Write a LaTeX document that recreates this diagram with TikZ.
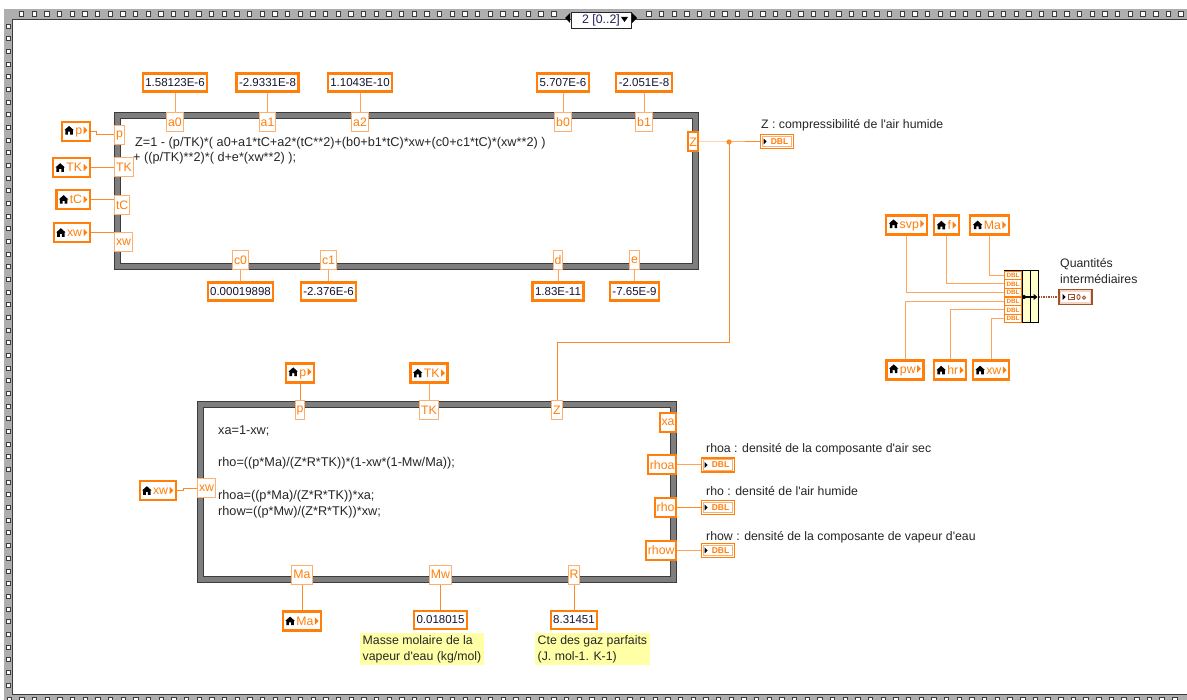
\documentclass[tikz,border=0pt]{standalone}
\usepackage{fontspec}
\newfontfamily\lvf{Liberation Sans}
\usetikzlibrary{arrows.meta}
\definecolor{lor}{HTML}{FF7F0A}
\definecolor{lorl}{HTML}{FFB070}
\definecolor{wor}{HTML}{FF8A24}
\definecolor{worl}{HTML}{FFA45A}
\definecolor{kblue}{HTML}{141434}
\definecolor{fdark}{HTML}{3C3C3C}
\definecolor{fgray}{HTML}{7E7E7E}
\definecolor{bandgray}{HTML}{AEAEAE}
\definecolor{txtc}{HTML}{262626}
\definecolor{cmtyl}{HTML}{FFFFA6}
\definecolor{bylw}{HTML}{FFFFCC}
\definecolor{cbrown}{HTML}{A0522D}
\definecolor{cpink}{HTML}{F3D6C8}
\definecolor{selblue}{HTML}{20205A}
\newcommand{\dfont}{\lvf\fontsize{12.3}{14}\selectfont}
\newcommand{\ffont}{\lvf\fontsize{12.7}{14}\selectfont}
\newcommand{\kfont}{\lvf\fontsize{11.5}{13}\selectfont}
\newcommand{\lvhouse}{\tikz[x=1pt,y=1pt,baseline=0pt]\fill[black] (0,0) -- (0,4.4) -- (-1,4.4) -- (3.7,8.6) -- (8.4,4.4) -- (7.4,4.4) -- (7.4,0) -- (4.8,0) -- (4.8,2.8) -- (2.6,2.8) -- (2.6,0) -- cycle;}
\newcommand{\lvtri}{\tikz[x=1pt,y=1pt,baseline=0pt]\fill[lor] (0,0.5) -- (0,8) -- (3.8,4.25) -- cycle;}
\newcommand{\lvname}[1]{\lvhouse\hspace{1.5pt}#1\hspace{1.5pt}\lvtri}
\begin{document}
\begin{tikzpicture}[x=1pt,y=-1pt,
  iterm/.style={draw=lorl, line width=1, fill=white, text=lor, font=\dfont, inner xsep=1.5pt, inner ysep=0pt, minimum height=19},
  oterm/.style={iterm, draw=lor, line width=2},
  kst/.style={draw=lor, line width=2.2, fill=white, text=kblue, font=\kfont, inner xsep=2.5pt, inner ysep=0pt, minimum height=18},
  lvar/.style={draw=lor, line width=2.2, fill=white, text=lor, font=\dfont, inner xsep=2.5pt, inner ysep=0pt, minimum height=19},
  wire/.style={draw=wor, line width=1},
  lwire/.style={draw=worl, line width=1},
  cwire/.style={draw=cbrown, line width=2.6, dash pattern=on 1.4pt off 1pt},
  fnode/.style={draw=fdark, double=fgray, double distance=5, line width=1, fill=white, inner sep=0},
  ftext/.style={font=\ffont, text=txtc, inner sep=0, anchor=base west},
  lbl/.style={font=\dfont, text=txtc, inner sep=0, anchor=base west},
  cmt/.style={fill=cmtyl, font=\lvf\fontsize{12.3}{16}\selectfont, text=txtc, align=left, inner xsep=2.5pt, inner ysep=2pt, anchor=north west},
  dbl/.style={draw=lor, line width=1.6, fill=white, minimum width=33, minimum height=14, inner sep=0,
    text=lor, font=\lvf\fontsize{8.5}{8.5}\selectfont\bfseries,
    path picture={
      \draw[lorl, line width=0.9] ([shift={(1.6pt,-1.6pt)}]path picture bounding box.north west) rectangle ([shift={(-1.6pt,1.6pt)}]path picture bounding box.south east);
      \fill[black] ([shift={(3pt,3pt)}]path picture bounding box.west) -- ([shift={(3pt,-3pt)}]path picture bounding box.west) -- ([shift={(6pt,0pt)}]path picture bounding box.west) -- cycle;}},
  clind/.style={draw=cbrown, line width=1.6, fill=cpink, minimum width=33, minimum height=15, inner sep=0,
    path picture={
      \fill[white] ([shift={(2.2pt,-2.2pt)}]path picture bounding box.north west) rectangle ([shift={(-2.2pt,2.2pt)}]path picture bounding box.south east);
      \fill[black] ([shift={(3.5pt,3pt)}]path picture bounding box.west) -- ([shift={(3.5pt,-3pt)}]path picture bounding box.west) -- ([shift={(6.5pt,0pt)}]path picture bounding box.west) -- cycle;
      \draw[cbrown, line width=0.8] ([shift={(9pt,2.5pt)}]path picture bounding box.west) rectangle ([shift={(15pt,-2.5pt)}]path picture bounding box.west);
      \draw[cbrown, line width=0.8] ([shift={(12pt,0pt)}]path picture bounding box.west) -- ([shift={(15pt,0pt)}]path picture bounding box.west);
      \draw[cbrown, line width=0.9] ([shift={(19.5pt,0pt)}]path picture bounding box.west) ellipse (1.6pt and 2.4pt);
      \draw[cbrown, line width=0.9] ([shift={(25pt,-0.6pt)}]path picture bounding box.west) circle (1.7pt);}},
  bcell/.style={draw=lor, line width=0.8, fill=white, text=lor, font=\lvf\fontsize{6.3}{6.3}\selectfont\bfseries, minimum width=17, minimum height=8.2, inner sep=0}
]
\useasboundingbox (0,0) rectangle (1187,700);
\fill[white] (0,0) rectangle (1187,700);
% ---------- sequence frame ----------
\fill[bandgray] (5,9) rectangle (1187,19);
\draw[fdark, line width=1.5] (12,19.5) -- (1187,19.5);
\foreach \x in {9,21.67,...,556} \filldraw[fill=white, draw=fdark, line width=1] (\x-2.2,12) rectangle (\x+2.2,17);
\foreach \x in {649,661.67,...,1187} \filldraw[fill=white, draw=fdark, line width=1] (\x-2.2,12) rectangle (\x+2.2,17);
\fill[bandgray] (4,9) rectangle (12,700);
\draw[fdark, line width=1.2] (12.5,19) -- (12.5,694);
\foreach \y in {26,38.67,...,690} \filldraw[fill=white, draw=fdark, line width=0.6] (6,\y-2) rectangle (10,\y+2);
\fill[bandgray] (4,695) rectangle (1187,700);
\draw[fdark, line width=1.2] (12,694.5) -- (1187,694.5);
\foreach \x in {9,21.67,...,1187} \filldraw[fill=white, draw=fdark, line width=0.6] (\x-2.2,697) rectangle (\x+2.2,701);
% selector
\node[draw=black!85, fill=white, line width=0.8, minimum width=60, minimum height=16, inner sep=0, font=\dfont, text=selblue] (sel) at (601,20) {2 [0..2]\hspace{13pt}};
\fill[black] (621,17) -- (628,17) -- (624.5,22) -- cycle;
\fill[black] (570,13) -- (570,23) -- (565,18) -- cycle;
\fill[black] (632,13) -- (632,23) -- (637,18) -- cycle;
% ---------- formula node 1 ----------
\node[fnode, minimum width=578, minimum height=151] (fn1) at (406.5,191) {};
\node[ftext] (f1l1) at (135,146.5) {Z=1 - (p/TK)*( a0+a1*tC+a2*(tC**2)+(b0+b1*tC)*xw+(c0+c1*tC)*(xw**2) )};
\node[ftext] (f1l2) at (133,161.5) {+ ((p/TK)**2)*( d+e*(xw**2) );};
% terminals
\node[iterm] (t1a0) at (175,122) {a0};
\node[iterm] (t1a1) at (267.5,122) {a1};
\node[iterm] (t1a2) at (360,122) {a2};
\node[iterm] (t1b0) at (563,122) {b0};
\node[iterm] (t1b1) at (644,122) {b1};
\node[iterm, anchor=west] (t1p) at (114,135) {p};
\node[iterm, anchor=west] (t1TK) at (114,167.5) {TK};
\node[iterm, anchor=west] (t1tC) at (114,205) {tC};
\node[iterm, anchor=west] (t1xw) at (114,242) {xw};
\node[iterm] (t1c0) at (240.5,260) {c0};
\node[iterm] (t1c1) at (328.5,260) {c1};
\node[iterm] (t1d) at (558,260) {d};
\node[iterm] (t1e) at (634.5,260) {e};
\node[oterm, anchor=east, inner xsep=1pt] (t1Z) at (699,142) {Z};
% constants
\node[kst] (k1a0) at (175,82.5) {1.58123E-6};
\node[kst] (k1a1) at (267.5,82.5) {-2.9331E-8};
\node[kst] (k1a2) at (360,82.5) {1.1043E-10};
\node[kst] (k1b0) at (563,82.5) {5.707E-6};
\node[kst] (k1b1) at (644,82.5) {-2.051E-8};
\node[kst] (k1c0) at (240.5,291.5) {0.00019898};
\node[kst] (k1c1) at (328.5,291.5) {-2.376E-6};
\node[kst] (k1d) at (558,291.5) {1.83E-11};
\node[kst] (k1e) at (634.5,291.5) {-7.65E-9};
\foreach \n in {a0,a1,a2,b0,b1} \draw[lwire] (k1\n.south) -- (t1\n.north);
\foreach \n in {c0,c1,d,e} \draw[lwire] (k1\n.north) -- (t1\n.south);
% local variables left
\node[lvar, anchor=east] (lv1p) at (91,131.5) {\lvname{p}};
\node[lvar, anchor=east] (lv1TK) at (91,167.5) {\lvname{TK}};
\node[lvar, anchor=east] (lv1tC) at (91,199.5) {\lvname{tC}};
\node[lvar, anchor=east] (lv1xw) at (91,232.5) {\lvname{xw}};
\draw[wire] (lv1p.east) -- ++(5,0) |- (t1p.west);
\draw[wire] (lv1TK.east) -- (t1TK.west);
\draw[wire] (lv1tC.east) -- (lv1tC.east -| t1tC.west);
\draw[wire] (lv1xw.east) -- (lv1xw.east -| t1xw.west);
% Z output
\node[dbl] (indZ) at (777,141.5) {\hspace*{5pt}DBL};
\node[lbl] (lblZ) at (761,128.5) {Z : compressibilité de l'air humide};
\coordinate (zj) at (729,142);
\coordinate (zk) at (729,343);
\draw[wire] (t1Z.east) -- (zj) -- (indZ.west |- zj);
\fill[wor] (zj) circle (2.6);
% ---------- formula node 2 ----------
\node[fnode, minimum width=473, minimum height=175] (fn2) at (437,492) {};
\node[ftext] (f2l1) at (218,434.5) {xa=1-xw;};
\node[ftext] (f2l2) at (218,466.5) {rho=((p*Ma)/(Z*R*TK))*(1-xw*(1-Mw/Ma));};
\node[ftext] (f2l3) at (218,499.5) {rhoa=((p*Ma)/(Z*R*TK))*xa;};
\node[ftext] (f2l4) at (218,515.5) {rhow=((p*Mw)/(Z*R*TK))*xw;};
\node[iterm] (t2p) at (300,410) {p};
\node[iterm] (t2TK) at (429,410) {TK};
\node[iterm] (t2Z) at (557,410) {Z};
\node[iterm, anchor=west] (t2xw) at (197,488.5) {xw};
\node[oterm, anchor=east] (t2xa) at (677,422.5) {xa};
\node[oterm, anchor=east] (t2rhoa) at (677,465) {rhoa};
\node[oterm, anchor=east] (t2rho) at (677,507.5) {rho};
\node[oterm, anchor=east] (t2rhow) at (677,550.5) {rhow};
\node[iterm] (t2Ma) at (302,574.5) {Ma};
\node[iterm] (t2Mw) at (440.5,574.5) {Mw};
\node[iterm] (t2R) at (574,574.5) {R};
\draw[wire] (zk) -| (t2Z.north);
\draw[wire] (zj) -- (zk);
% inputs node 2
\node[lvar] (lv2p) at (300,373) {\lvname{p}};
\node[lvar] (lv2TK) at (429,373) {\lvname{TK}};
\node[lvar, anchor=east] (lv2xw) at (177,490.5) {\lvname{xw}};
\node[lvar] (lv2Ma) at (302,621) {\lvname{Ma}};
\node[kst] (k2Mw) at (440.5,620) {0.018015};
\node[kst] (k2R) at (574,620) {8.31451};
\draw[wire] (lv2p.south) -- (t2p.north);
\draw[lwire] (lv2TK.south) -- (t2TK.north);
\draw[wire] (lv2xw.east) -- ++(6,0) |- (t2xw.west);
\draw[wire] (t2Ma.south) -- (lv2Ma.north);
\draw[wire] (t2Mw.south) -- (k2Mw.north);
\draw[wire] (t2R.south) -- (k2R.north);
\node[cmt] (cmMw) at (360,633) {Masse molaire de la\\vapeur d'eau (kg/mol)};
\node[cmt] (cmR) at (535,633) {Cte des gaz parfaits\\(J. mol-1. K-1)};
% outputs node 2
\node[dbl] (ind2a) at (718,465) {\hspace*{5pt}DBL};
\node[dbl] (ind2r) at (718,507.5) {\hspace*{5pt}DBL};
\node[dbl] (ind2w) at (718,550.5) {\hspace*{5pt}DBL};
\node[lbl] (lbl2a) at (706,453) {rhoa : densité de la composante d'air sec};
\node[lbl] (lbl2r) at (706,495.5) {rho : densité de l'air humide};
\node[lbl] (lbl2w) at (706,540.5) {rhow : densité de la composante de vapeur d'eau};
\draw[lwire] (t2rhoa.east) -- (ind2a.west);
\draw[wire] (t2rho.east) -- (ind2r.west);
\draw[lwire] (t2rhow.east) -- (ind2w.west);
% ---------- bundle ----------
\node[lvar] (lvsvp) at (906.5,225) {\lvname{svp}};
\node[lvar] (lvf) at (946.5,225) {\lvname{f}};
\node[lvar] (lvMa3) at (989.5,225) {\lvname{Ma}};
\node[lvar] (lvpw) at (905,370) {\lvname{pw}};
\node[lvar] (lvhr) at (950,370) {\lvname{hr}};
\node[lvar] (lvxw3) at (991,370) {\lvname{xw}};
\node[draw=black, line width=1, fill=bylw, minimum width=34, minimum height=52, inner sep=0] (bund) at (1021,297) {};
\draw[black, line width=0.8] (1030,271) -- (1030,323);
\draw[black, line width=0.8] (1022,271) -- (1022,323);
\node[bcell] (bc1) at (1013,275.33) {DBL};
\node[bcell] (bc2) at (1013,284) {DBL};
\node[bcell] (bc3) at (1013,292.67) {DBL};
\node[bcell] (bc4) at (1013,301.33) {DBL};
\node[bcell] (bc5) at (1013,310) {DBL};
\node[bcell] (bc6) at (1013,318.67) {DBL};
\draw[black, line width=2.2, -{Triangle[length=4pt,width=6pt]}] (1024,297) -- (1037.5,297);
\fill[black] (1024,297) circle (2);
\draw[lwire] (lvMa3.south) |- (bc1.west);
\draw[lwire] (lvf.south) |- (bc2.west);
\draw[lwire] (lvsvp.south) |- (bc3.west);
\draw[lwire] (lvpw.north) |- (bc4.west);
\draw[lwire] (lvhr.north) |- (bc5.west);
\draw[lwire] (lvxw3.north) |- (bc6.west);
\node[clind] (indQ) at (1075.5,297) {};
\draw[cwire] (bund.east) -- (indQ.west);
\node[lbl] (lblQ1) at (1060,267.5) {Quantités};
\node[lbl] (lblQ2) at (1060,283.5) {intermédiaires};
\end{tikzpicture}
\end{document}
